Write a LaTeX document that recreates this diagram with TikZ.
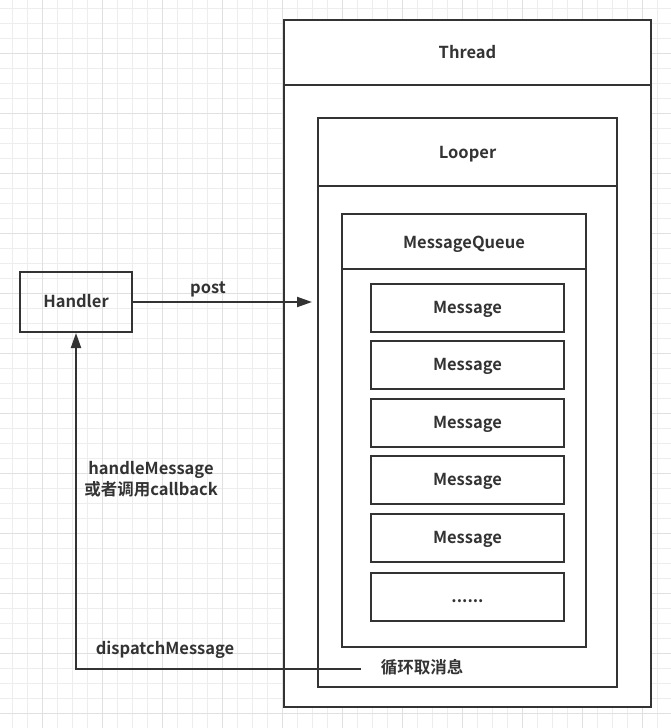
\documentclass[tikz,border=0pt]{standalone}
\usepackage{fontspec}
\newfontfamily\lblfont{Noto Sans CJK SC Bold}
\usetikzlibrary{arrows.meta}
\definecolor{ink}{HTML}{333333}
\definecolor{gridminor}{HTML}{EDEDED}
\definecolor{gridmajor}{HTML}{E0E0E0}
\tikzset{
  box/.style={draw=ink,line width=2pt},
  msgbox/.style={draw=ink,line width=2pt,minimum width=193pt,minimum height=48pt,inner sep=0pt},
  lbl/.style={text=ink,font=\lblfont\fontsize{16.5pt}{21pt}\selectfont,inner sep=0pt,
    text height=12pt,text depth=1pt},
  link/.style={draw=ink,line width=2pt},
  tip/.style={-{Triangle[length=15pt,width=10pt]}}
}
\begin{document}
\begin{tikzpicture}[x=1pt,y=-1pt]
\useasboundingbox (0,0) rectangle (671,728);
\fill[white] (0,0) rectangle (671,728);

% background grid
\foreach \gx in {12.5,27.5,...,671} \draw[gridminor,line width=1pt] (\gx,0) -- (\gx,728);
\foreach \gy in {8.5,23.5,...,728} \draw[gridminor,line width=1pt] (0,\gy) -- (671,\gy);
\foreach \gx in {42.5,102.5,...,671} \draw[gridmajor,line width=1pt] (\gx,0) -- (\gx,728);
\foreach \gy in {53.5,113.5,...,728} \draw[gridmajor,line width=1pt] (0,\gy) -- (671,\gy);

% Thread
\draw[box,fill=white] (284,20) rectangle (651,707);
\draw[box] (284,85) -- (651,85);
\node[lbl] (thread) at (467.5,53) {Thread};

% Looper
\draw[box,fill=white] (318,118) rectangle (617,687);
\draw[box] (318,186) -- (617,186);
\node[lbl] (looper) at (467.5,153) {Looper};

% MessageQueue
\draw[box,fill=white] (342,214) rectangle (586,647);
\draw[box] (342,269) -- (586,269);
\node[lbl] (mq) at (464,243) {MessageQueue};

\foreach \i in {0,...,4}
  \node[msgbox,lbl] (msg\i) at (467.5,308+57.4*\i) {Message};
\node[msgbox,lbl] (msg5) at (467.5,597) {......};

\node[lbl] (loop) at (422,668) {循环取消息};

% Handler
\node[box,lbl,minimum width=112pt,minimum height=60pt] (handler) at (76,302) {Handler};

\coordinate (in) at (312,302);
\coordinate (out) at (361,669);
\coordinate (turn) at (76,669);

\draw[link,tip] (handler.east) -- (in);
\node[lbl] (post) at (208,288) {post};

\draw[link,tip] (out) -- (turn) -- (handler.south);
\node[lbl] (dispatch) at (165,649) {dispatchMessage};
\node[lbl,align=center] (handle) at (151,490) {handleMessage\\或者调用callback};

\end{tikzpicture}
\end{document}
